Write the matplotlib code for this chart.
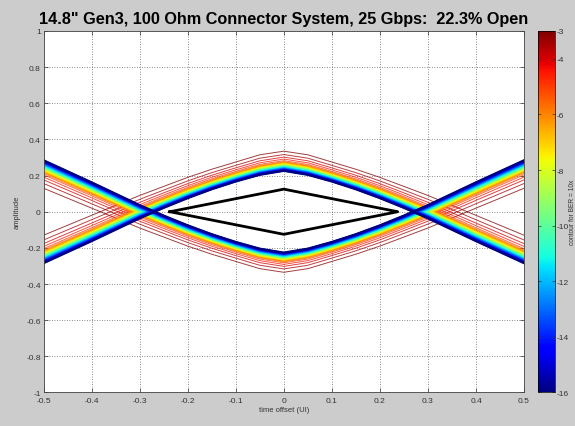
import matplotlib
matplotlib.use('Agg')
import matplotlib.pyplot as plt
import numpy as np

# upper trace of the eye contours, left half (right half is the mirror image)
trace_x = [-0.5, -0.45, -0.4, -0.35, -0.3, -0.25, -0.2, -0.15, -0.1, -0.05, 0.0]
# innermost contour (BER = 1e-16)
inner_y = [-0.285, -0.224, -0.163, -0.10, -0.037, 0.021, 0.075, 0.124, 0.167, 0.204, 0.226]
# outermost contour (BER = 1e-3)
outer_y = [-0.13, -0.075, -0.02, 0.035, 0.09, 0.14, 0.19, 0.235, 0.275, 0.315, 0.335]

# contour levels (log10 BER) and where each one sits across the band (0 = inner, 1 = outer)
levels = [-16, -15.5, -15, -14.5, -14, -13.5, -13, -12.5, -12, -11.5, -11, -10.5, -10, -9.5,
          -9, -8.5, -8, -7.5, -7, -6.5, -6, -5.5, -5, -4.5, -4, -3.5, -3]
band_pos = [0.0, 0.02, 0.04, 0.06, 0.08, 0.10, 0.12, 0.14, 0.16, 0.18, 0.20, 0.22, 0.24, 0.26,
            0.28, 0.30, 0.32, 0.345, 0.37, 0.40, 0.43, 0.47, 0.52, 0.60, 0.70, 0.83, 1.0]

# eye opening at target BER
diamond_x = [-0.237, 0.0, 0.237, 0.0, -0.237]
diamond_y = [0.0, 0.125, 0.0, -0.125, 0.0]

xticks = [-0.5, -0.4, -0.3, -0.2, -0.1, 0, 0.1, 0.2, 0.3, 0.4, 0.5]
xticklabels = ['-0.5', '-0.4', '-0.3', '-0.2', '-0.1', '0', '0.1', '0.2', '0.3', '0.4', '0.5']
yticks = [-1, -0.8, -0.6, -0.4, -0.2, 0, 0.2, 0.4, 0.6, 0.8, 1]
yticklabels = ['-1', '-0.8', '-0.6', '-0.4', '-0.2', '0', '0.2', '0.4', '0.6', '0.8', '1']
cbar_ticks = [-16, -14, -12, -10, -8, -6, -4, -3]

plt.rcParams['font.family'] = ['Liberation Sans', 'DejaVu Sans']

fig = plt.figure(figsize=(5.75, 4.27), dpi=100)
fig.patch.set_facecolor('#cccccc')
ax = fig.add_axes([0.0757, 0.0785, 0.8357, 0.8466])

cmap = plt.get_cmap('jet')
norm = matplotlib.colors.Normalize(vmin=-16, vmax=-3)

tx = np.array(trace_x)
full_x = np.concatenate([tx, -tx[::-1][1:]])
inner = np.array(inner_y)
outer = np.array(outer_y)

# draw red ones first so the blue edge ends up on top
for lev, f in sorted(zip(levels, band_pos), reverse=True):
    half = (1 - f) * inner + f * outer
    full_y = np.concatenate([half, half[::-1][1:]])
    c = cmap(norm(lev))
    if lev <= -15:
        lw, a = 1.5, 1.0
    elif lev >= -5.5:
        lw, a = 0.7, 0.75
    else:
        lw, a = 0.9, 1.0
    ax.plot(full_x, full_y, color=c, lw=lw, alpha=a)
    ax.plot(full_x, -full_y, color=c, lw=lw, alpha=a)

ax.plot(diamond_x, diamond_y, color='black', lw=2.0)

ax.set_xlim(-0.5, 0.5)
ax.set_ylim(-1, 1)
ax.set_xticks(xticks)
ax.set_xticklabels(xticklabels)
ax.set_yticks(yticks)
ax.set_yticklabels(yticklabels)
ax.tick_params(direction='in', length=3, width=0.5, labelsize=6, colors='#333333',
               top=True, right=True, pad=2)
ax.tick_params(axis='x', pad=3)
ax.grid(True, color='#666666', linestyle=(0, (1, 2)), lw=0.6)
for s in ax.spines.values():
    s.set_linewidth(0.6)
    s.set_color('#444444')

ax.set_xlabel('time offset (UI)', fontsize=5.5, color='#333333', labelpad=2)
ax.set_ylabel('amplitude', fontsize=5.5, color='#333333', labelpad=4)
ax.set_title('14.8" Gen3, 100 Ohm Connector System, 25 Gbps:  22.3% Open',
             fontsize=11.7, fontweight='bold', pad=6)

# colorbar
cax = fig.add_axes([0.9357, 0.0785, 0.0296, 0.8466])
sm = matplotlib.cm.ScalarMappable(norm=norm, cmap=cmap)
cb = fig.colorbar(sm, cax=cax, ticks=cbar_ticks)
cb.outline.set_linewidth(0.5)
cax.tick_params(direction='in', length=2.5, width=0.5, labelsize=6, colors='#333333',
                left=True, right=True, pad=1)
cax.set_yticklabels([str(t) for t in cbar_ticks])
cb.set_label('contour for BER = 10x', fontsize=4.8, color='#333333', labelpad=0)

fig.savefig('out.png', dpi=100, facecolor=fig.get_facecolor())
